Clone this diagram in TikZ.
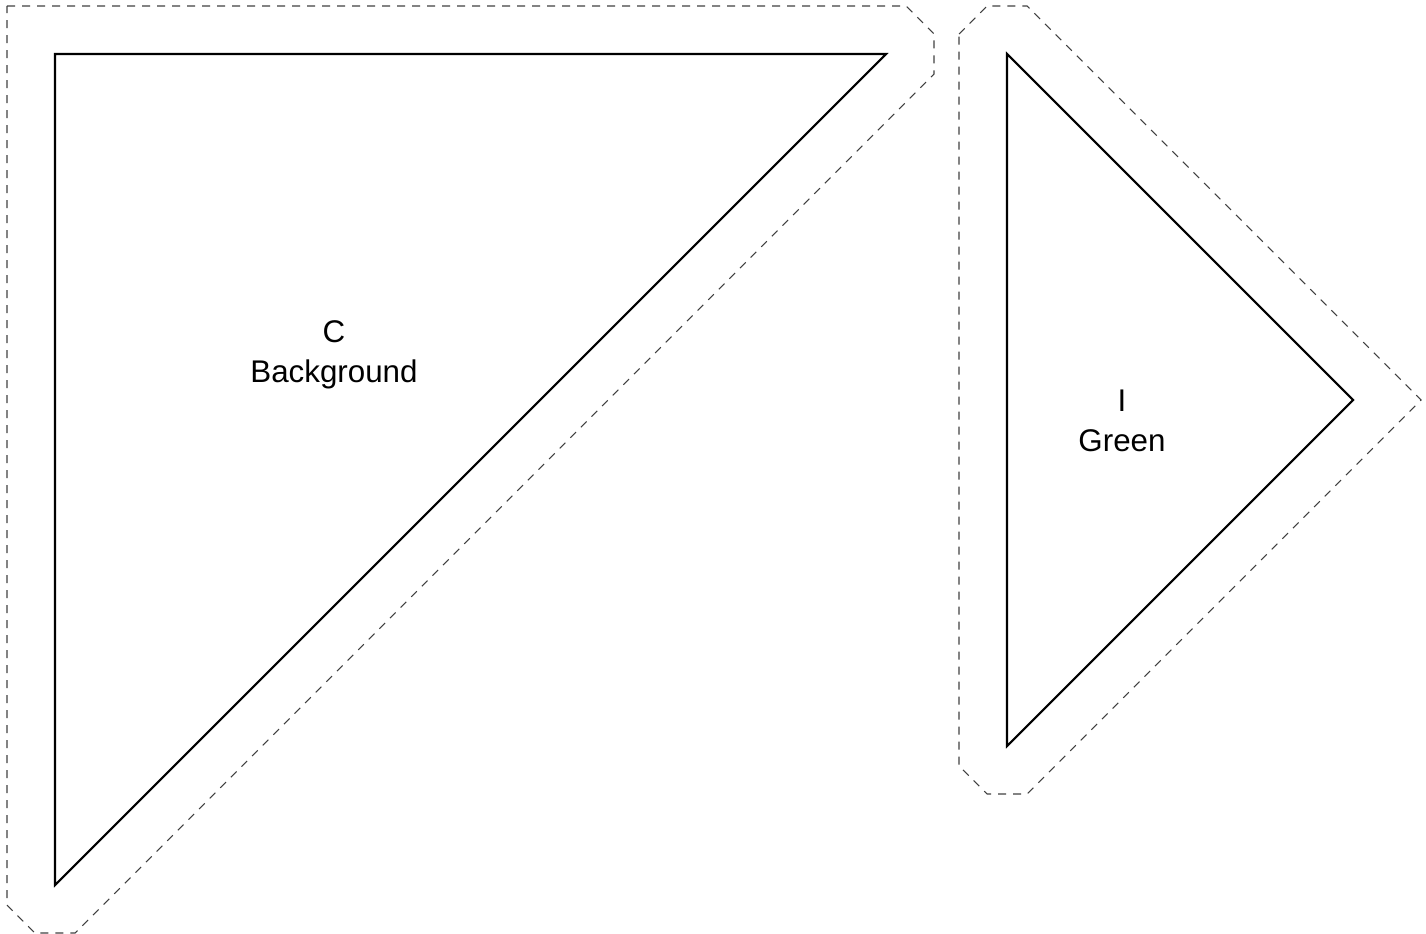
\documentclass[tikz,border=0pt]{standalone}
\usepackage{fontspec}
\setmainfont{Liberation Sans}
\begin{document}
\begin{tikzpicture}[x=0.75pt,y=-0.75pt,
  piece/.style={draw=black,line width=1.6pt,line join=miter},
  cutline/.style={draw=black!75,line width=0.8pt,dash pattern=on 6pt off 5.25pt},
  label/.style={align=center,inner sep=0pt,font=\fontsize{23.5}{30}\selectfont}]
\useasboundingbox (0,0) rectangle (1426,934);
% piece C
\coordinate (c1) at (55,54);
\coordinate (c2) at (886,54);
\coordinate (c3) at (55,885);
\draw[piece] (c1) -- (c2) -- (c3) -- cycle;
\draw[cutline] (7,6) -- (906,6) -- (934,34) -- (934,74) -- (75,933) -- (35,933) -- (7,905) -- cycle;
\node[label] (lc) at (334,354.5) {C\\Background};
% piece I
\coordinate (i1) at (1007,54);
\coordinate (i2) at (1353,400);
\coordinate (i3) at (1007,746);
\draw[piece] (i1) -- (i2) -- (i3) -- cycle;
\draw[cutline] (959,34) -- (987,6) -- (1027,6) -- (1421,400) -- (1027,794) -- (987,794) -- (959,766) -- cycle;
\node[label] (li) at (1122,420.5) {I\\Green};
\end{tikzpicture}
\end{document}
